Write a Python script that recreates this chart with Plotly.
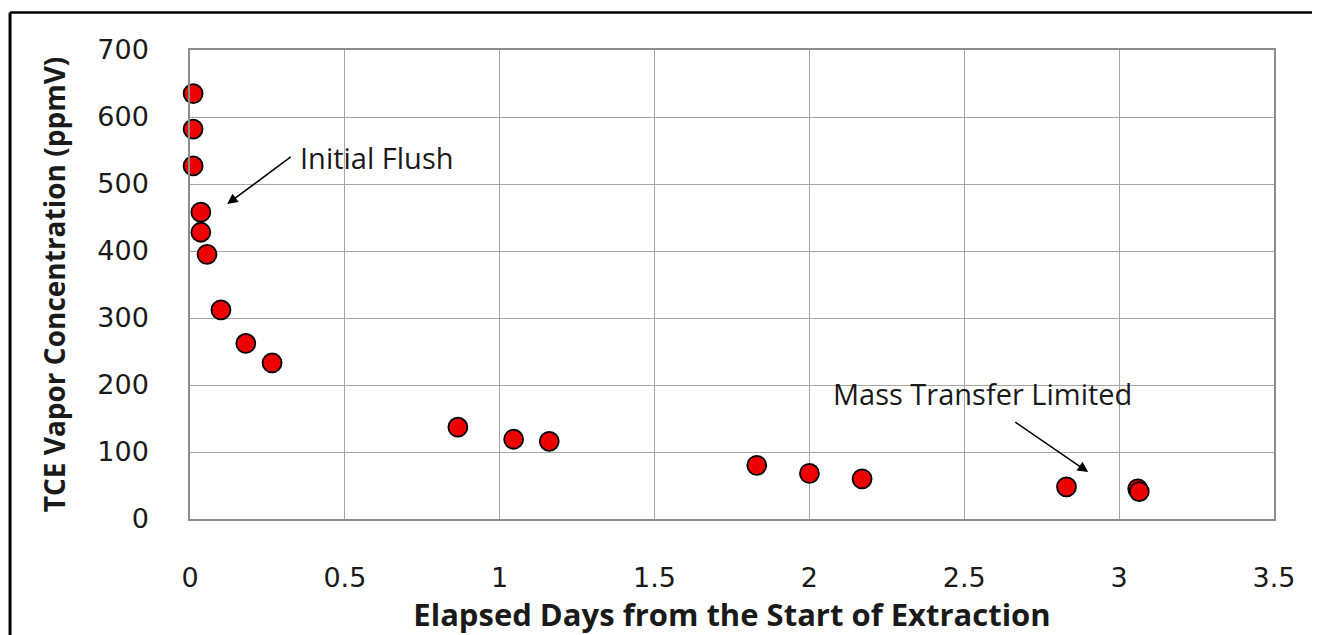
import plotly.graph_objects as go

days = [0.01, 0.01, 0.01, 0.035, 0.035, 0.055, 0.10, 0.18, 0.265,
        0.865, 1.045, 1.16, 1.83, 2.0, 2.17, 2.83, 3.06, 3.065]
tce_ppmv = [635, 582, 527, 458, 428, 395, 312, 262, 233,
            137, 119, 116, 80, 68, 60, 48, 45, 41]

x_ticks = [0, 0.5, 1, 1.5, 2, 2.5, 3, 3.5]
x_tick_labels = ["0", "0.5", "1", "1.5", "2", "2.5", "3", "3.5"]
y_ticks = [0, 100, 200, 300, 400, 500, 600, 700]

fig = go.Figure()
fig.add_trace(go.Scatter(
    x=days, y=tce_ppmv, mode="markers",
    marker=dict(size=19, color="#ee0000", line=dict(color="black", width=1.8)),
    showlegend=False, cliponaxis=False,
))

grid = "#a6a6a6"
fig.update_xaxes(
    range=[0, 3.5], tickvals=x_ticks, ticktext=x_tick_labels,
    showgrid=True, gridcolor=grid, gridwidth=1,
    showline=True, linecolor="#8c8c8c", linewidth=1.5, mirror=True,
    zeroline=False, ticks="", ticklabelstandoff=34,
    tickfont=dict(family="DejaVu Sans", size=27, color="#1a1a1a"),
    title=dict(text="<b>Elapsed Days from the Start of Extraction</b>",
               font=dict(family="Open Sans", size=31, color="#1a1a1a"), standoff=8),
)
fig.update_yaxes(
    range=[0, 700], tickvals=y_ticks,
    showgrid=True, gridcolor=grid, gridwidth=1,
    showline=True, linecolor="#8c8c8c", linewidth=1.5, mirror=True,
    zeroline=False, ticks="", ticklabelstandoff=34,
    tickfont=dict(family="DejaVu Sans", size=27, color="#1a1a1a"),
    title=dict(text="<b>TCE Vapor Concentration (ppmV)</b>",
               font=dict(family="Open Sans", size=28, color="#1a1a1a"), standoff=24),
)

fig.add_annotation(
    x=0.12, y=470, ax=0.33, ay=542, axref="x", ayref="y",
    text="", showarrow=True, arrowhead=2, arrowsize=1.4, arrowwidth=1.5, arrowcolor="black",
)
fig.add_annotation(
    x=0.35, y=540, text="Initial Flush", showarrow=False, xanchor="left", yanchor="middle",
    font=dict(family="Open Sans", size=29, color="#1a1a1a"),
)
fig.add_annotation(
    x=2.9, y=70, ax=2.66, ay=146, axref="x", ayref="y",
    text="", showarrow=True, arrowhead=2, arrowsize=1.4, arrowwidth=1.5, arrowcolor="black",
)
fig.add_annotation(
    x=2.07, y=188, text="Mass Transfer Limited", showarrow=False, xanchor="left", yanchor="middle",
    font=dict(family="Open Sans", size=29, color="#1a1a1a"),
)

# outer frame (top and left edges visible)
fig.add_shape(type="line", xref="paper", yref="paper", x0=-0.166, x1=1.2, y0=1.08, y1=1.08,
              line=dict(color="black", width=2.5))
fig.add_shape(type="line", xref="paper", yref="paper", x0=-0.166, x1=-0.166, y0=1.08, y1=-0.4,
              line=dict(color="black", width=3))

# page body has an 8px margin, so the figure is sized to fit the window
fig.update_layout(
    width=1312, height=627,
    margin=dict(l=182, r=46, t=42, b=110),
    paper_bgcolor="white", plot_bgcolor="white",
)

fig.write_html("out.html")
